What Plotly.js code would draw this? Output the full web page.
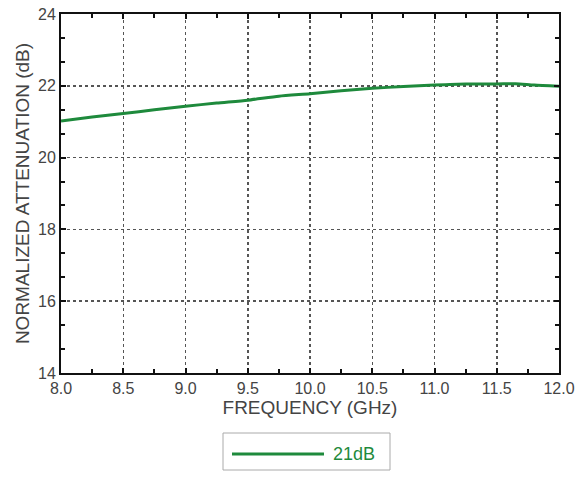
<!DOCTYPE html>
<html>
<head>
<meta charset="utf-8">
<script src="https://cdn.plot.ly/plotly-3.0.1.min.js"></script>
<style>html,body{margin:0;padding:0;background:#fff;}#chart{width:579px;height:477px;}</style>
</head>
<body>
<div id="chart"></div>
<script>
const freq = [8.0, 8.25, 8.5, 8.75, 9.0, 9.25, 9.5, 9.75, 10.0, 10.25, 10.5, 10.75, 11.0, 11.25, 11.5, 11.65, 11.8, 12.0];
const atten21 = [21.02, 21.13, 21.23, 21.33, 21.43, 21.52, 21.60, 21.71, 21.78, 21.86, 21.93, 21.98, 22.02, 22.05, 22.05, 22.06, 22.02, 21.99];
const seriesName = '21dB';
const xTitle = 'FREQUENCY (GHz)';
const yTitle = 'NORMALIZED ATTENUATION (dB)';

const green = '#1e8a3c';
const fam = 'Liberation Sans, Arial, sans-serif';
const trace = {x: freq, y: atten21, type: 'scatter', mode: 'lines', name: seriesName,
  line: {color: green, width: 3, shape: 'spline', smoothing: 0.6}, showlegend: false};

const axisCommon = {
  showline: true, linecolor: '#111', linewidth: 2, mirror: 'allticks',
  ticks: 'inside', ticklen: 5, tickwidth: 2, tickcolor: '#111',
  showgrid: true, gridcolor: '#555', griddash: 'dot', gridwidth: 1.5,
  zeroline: false,
  tickfont: {family: fam, size: 16, color: '#444'}
};

const layout = {
  width: 579, height: 477,
  margin: {l: 61, r: 20, t: 14, b: 104},
  paper_bgcolor: '#fff', plot_bgcolor: '#fff',
  xaxis: Object.assign({}, axisCommon, {
    range: [8, 12], dtick: 0.5, tick0: 8, tickformat: '.1f',
    minor: {dtick: 0.25, ticks: 'inside', ticklen: 4, tickwidth: 2, tickcolor: '#111', showgrid: false},
    title: {text: xTitle, standoff: 4, font: {family: fam, size: 19, color: '#444'}}
  }),
  yaxis: Object.assign({}, axisCommon, {
    range: [14, 24], dtick: 2, tick0: 14,
    minor: {dtick: 2/3, tick0: 14, ticks: 'inside', ticklen: 4, tickwidth: 2, tickcolor: '#111', showgrid: false},
    title: {text: yTitle, standoff: 3, font: {family: fam, size: 19, color: '#444'}}
  }),
  shapes: [
    {type: 'rect', xref: 'paper', yref: 'paper', x0: (223-61)/498, x1: (390-61)/498,
     y0: (373-470)/359, y1: (373-433)/359, line: {color: '#aaa', width: 1}, fillcolor: '#fff'},
    {type: 'line', xref: 'paper', yref: 'paper', x0: (232-61)/498, x1: (324-61)/498,
     y0: (373-454)/359, y1: (373-454)/359, line: {color: green, width: 3}}
  ],
  annotations: [
    {xref: 'paper', yref: 'paper', x: (331-61)/498, y: (373-454)/359, xanchor: 'left', yanchor: 'middle',
     text: seriesName, showarrow: false, font: {family: fam, size: 18, color: green}}
  ]
};

Plotly.newPlot('chart', [trace], layout, {displayModeBar: false, staticPlot: true});
</script>
</body>
</html>
